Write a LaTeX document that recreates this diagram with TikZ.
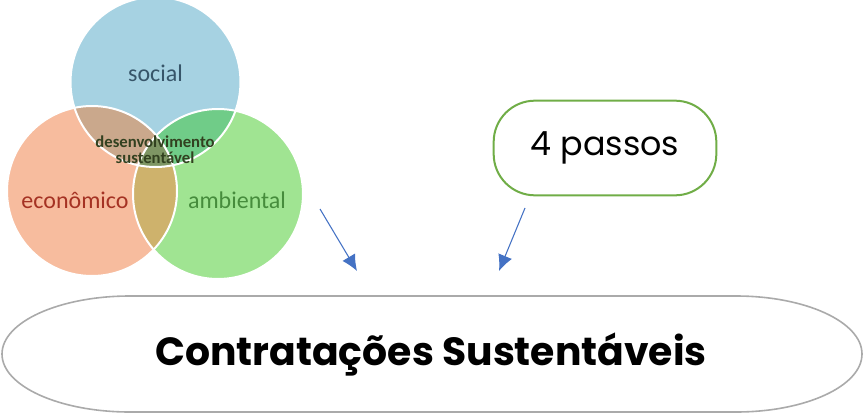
\documentclass[tikz,border=0pt]{standalone}
\usepackage{fontspec}
\setmainfont{Carlito}
\newfontfamily\gothic{Poppins}
\usetikzlibrary{arrows.meta}
\definecolor{socialfill}{RGB}{166,210,226}
\definecolor{econfill}{RGB}{247,188,158}
\definecolor{ambfill}{RGB}{160,228,146}
\definecolor{selens}{RGB}{202,168,140}
\definecolor{salens}{RGB}{112,204,136}
\definecolor{ealens}{RGB}{206,178,108}
\definecolor{midlens}{RGB}{126,150,100}
\definecolor{socialtext}{RGB}{55,85,105}
\definecolor{econtext}{RGB}{165,50,35}
\definecolor{ambtext}{RGB}{70,140,60}
\definecolor{centertext}{RGB}{50,65,32}
\definecolor{boxgreen}{RGB}{112,173,71}
\definecolor{arrowblue}{RGB}{68,114,196}
\definecolor{ovalgray}{RGB}{170,170,170}
\tikzset{
  ring/.style={draw=white,line width=1.5pt},
  label/.style={font=\fontsize{18}{21}\selectfont},
  passosbox/.style={draw=boxgreen,line width=1.5pt,rounded corners=31pt,minimum width=167pt,minimum height=71pt,inner sep=0pt},
  pointer/.style={draw=arrowblue,line width=0.8pt,-{Latex[length=12pt,width=11pt]}}
}
\newcommand{\socialdisc}{(155.5,82) circle (85)}
\newcommand{\econdisc}{(92,191) circle (85)}
\newcommand{\ambdisc}{(218,194) circle (85)}
\begin{document}
\begin{tikzpicture}[x=0.75pt,y=0.75pt,yscale=-1,xscale=1]
\useasboundingbox (0,0) rectangle (866,414);
%Shape: Circles
\fill[socialfill] \socialdisc;
\fill[econfill] \econdisc;
\fill[ambfill] \ambdisc;
% overlaps
\begin{scope}
\clip \socialdisc;
\fill[selens] \econdisc;
\fill[salens] \ambdisc;
\end{scope}
\begin{scope}
\clip \econdisc;
\fill[ealens] \ambdisc;
\clip \socialdisc;
\fill[midlens] \ambdisc;
\end{scope}
\draw[ring] \socialdisc;
\draw[ring] \econdisc;
\draw[ring] \ambdisc;

% Text Node
\node[label,text=socialtext] (social) at (155.5,73) {social};
% Text Node
\node[label,text=econtext] (econ) at (75,200) {econômico};
% Text Node
\node[label,text=ambtext] (amb) at (237,200) {ambiental};
% Text Node
\node[text=centertext,font=\bfseries\fontsize{12.5}{12}\selectfont,align=center] (desenv) at (155,150) {desenvolvimento\\sustentável};

%Shape: Rounded box
\node[passosbox,font=\gothic\fontsize{25}{30}\selectfont] (passos) at (605,148) {4 passos};

%Shape: Oval
\draw[ovalgray,line width=1.2pt] (130,296) -- (736,296) arc[start angle=-90,end angle=90,x radius=126,y radius=58] -- (130,412) arc[start angle=90,end angle=270,x radius=128,y radius=58] -- cycle;
% Text Node
\node[font=\gothic\bfseries\fontsize{29.5}{34}\selectfont] (contr) at (431,355) {Contratações Sustentáveis};

% Arrows
\coordinate (tail1) at (320,209);
\coordinate (head1) at (357,271);
\coordinate (tail2) at (525,208);
\coordinate (head2) at (499,271);
\draw[pointer] (tail1) -- (head1);
\draw[pointer] (tail2) -- (head2);
\end{tikzpicture}
\end{document}
